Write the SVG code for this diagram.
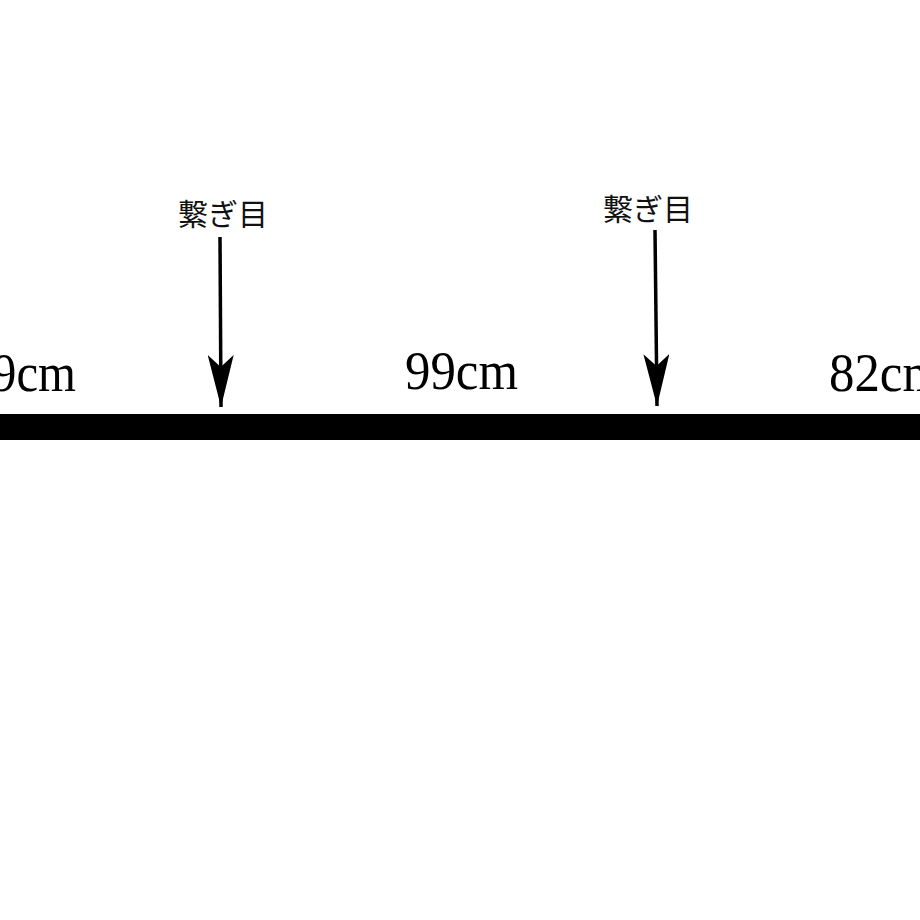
<svg xmlns="http://www.w3.org/2000/svg" width="920" height="920" viewBox="0 0 920 920">
<style>
.dim{font-family:"Liberation Serif","Noto Serif",serif;font-size:54px;fill:#000}
.lbl{font-family:"Noto Sans CJK JP","Noto Sans CJK SC",sans-serif;font-size:30px;fill:#111;text-anchor:middle}
.arr{stroke:#000;stroke-width:3.5;fill:none}
</style>
<defs>
<marker id="ah" markerUnits="userSpaceOnUse" viewBox="0 0 52 26" refX="52" refY="13" markerWidth="52" markerHeight="26" orient="auto">
<path d="M0,0 L52,13 L0,26 L12,13 Z" fill="#000"/>
</marker>
</defs>
<rect width="920" height="920" fill="#fff"/>
<g id="bar"><rect x="0" y="414" width="920" height="26" fill="#000"/></g>
<g id="label-left"><text class="dim" x="-8" y="391" textLength="84" lengthAdjust="spacingAndGlyphs">9cm</text></g>
<g id="label-mid"><text class="dim" x="405" y="389" textLength="113" lengthAdjust="spacingAndGlyphs">99cm</text></g>
<g id="label-right"><text class="dim" x="829" y="391" textLength="113" lengthAdjust="spacingAndGlyphs">82cm</text></g>
<g id="joint1"><text class="lbl" x="223" y="225">繋ぎ目</text></g>
<g id="joint2"><text class="lbl" x="648" y="220">繋ぎ目</text></g>
<g id="connectors">
<path class="arr" d="M220,237 L221,407" marker-end="url(#ah)"/>
<path class="arr" d="M655,230 L657,406" marker-end="url(#ah)"/>
</g>
</svg>
